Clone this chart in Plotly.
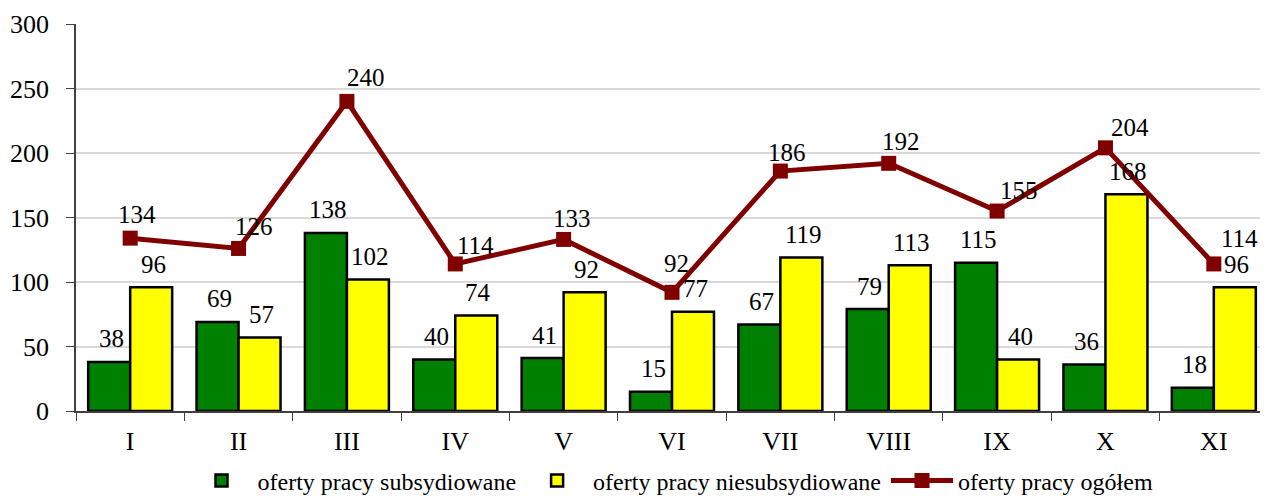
import plotly.graph_objects as go

months = ["I", "II", "III", "IV", "V", "VI", "VII", "VIII", "IX", "X", "XI"]
subsydiowane = [38, 69, 138, 40, 41, 15, 67, 79, 115, 36, 18]
niesubsydiowane = [96, 57, 102, 74, 92, 77, 119, 113, 40, 168, 96]
ogolem = [134, 126, 240, 114, 133, 92, 186, 192, 155, 204, 114]
y_ticks = [0, 50, 100, 150, 200, 250, 300]

# label offsets (pixels) for the total-line labels, as placed in the original
line_label_dx = [7, 15, 19, 20, 8, 4, 7, 12, 22, 25, 26]
line_label_dy = [24, 22, 24, 18, 21, 29, 19, 22, 21, 20, 25]

FONT = "Liberation Serif, Times New Roman, serif"
LBL = 25

fig = go.Figure()
fig.add_trace(go.Bar(
    x=months, y=subsydiowane, name="oferty pracy subsydiowane",
    marker=dict(color="#008000", line=dict(color="black", width=2.5)),
))
fig.add_trace(go.Bar(
    x=months, y=niesubsydiowane, name="oferty pracy niesubsydiowane",
    marker=dict(color="#FFFF00", line=dict(color="black", width=2.5)),
))
fig.add_trace(go.Scatter(
    x=months, y=ogolem, name="oferty pracy ogółem", mode="lines+markers",
    line=dict(color="#800000", width=5),
    marker=dict(symbol="square", size=15, color="#800000"),
))

for i, m in enumerate(months):
    fig.add_annotation(x=m, y=subsydiowane[i], text=str(subsydiowane[i]), xshift=-19,
                       yshift=23, yanchor="middle", showarrow=False,
                       font=dict(family=FONT, size=LBL, color="black"))
    fig.add_annotation(x=m, y=niesubsydiowane[i], text=str(niesubsydiowane[i]), xshift=23,
                       yshift=23, yanchor="middle", showarrow=False,
                       font=dict(family=FONT, size=LBL, color="black"))
    fig.add_annotation(x=m, y=ogolem[i], text=str(ogolem[i]), xshift=line_label_dx[i],
                       yshift=line_label_dy[i], yanchor="middle", showarrow=False,
                       font=dict(family=FONT, size=LBL, color="black"))

# page body has an 8px margin, so the figure is 8px smaller than the window
fig.update_layout(
    width=1260, height=490,
    margin=dict(l=68, r=0, t=16, b=87, autoexpand=False),
    paper_bgcolor="white", plot_bgcolor="white",
    barmode="group", bargap=0.225, bargroupgap=0,
    font=dict(family=FONT, size=26, color="black"),
    showlegend=True,
    legend=dict(orientation="h", x=0.5, xanchor="center", xref="paper",
                y=17 / 490, yanchor="middle", yref="container",
                font=dict(family=FONT, size=24), tracegroupgap=0, itemwidth=62),
)
fig.update_yaxes(range=[0, 300], tickvals=y_ticks, showgrid=True, gridcolor="#d9d9d9",
                 gridwidth=1.5, showline=True, linecolor="#404040", linewidth=1.5,
                 ticks="outside", ticklen=8, tickcolor="#404040", zeroline=False,
                 automargin=False, ticklabelstandoff=12,
                 tickfont=dict(family=FONT, size=26))
fig.update_xaxes(range=[-0.5, len(months) - 0.5], showline=True, linecolor="#404040",
                 linewidth=1.5, ticks="outside",
                 tickson="boundaries", ticklen=8, tickcolor="#404040",
                 automargin=False, ticklabelstandoff=6,
                 tickfont=dict(family=FONT, size=26))

fig.write_html("out.html")
